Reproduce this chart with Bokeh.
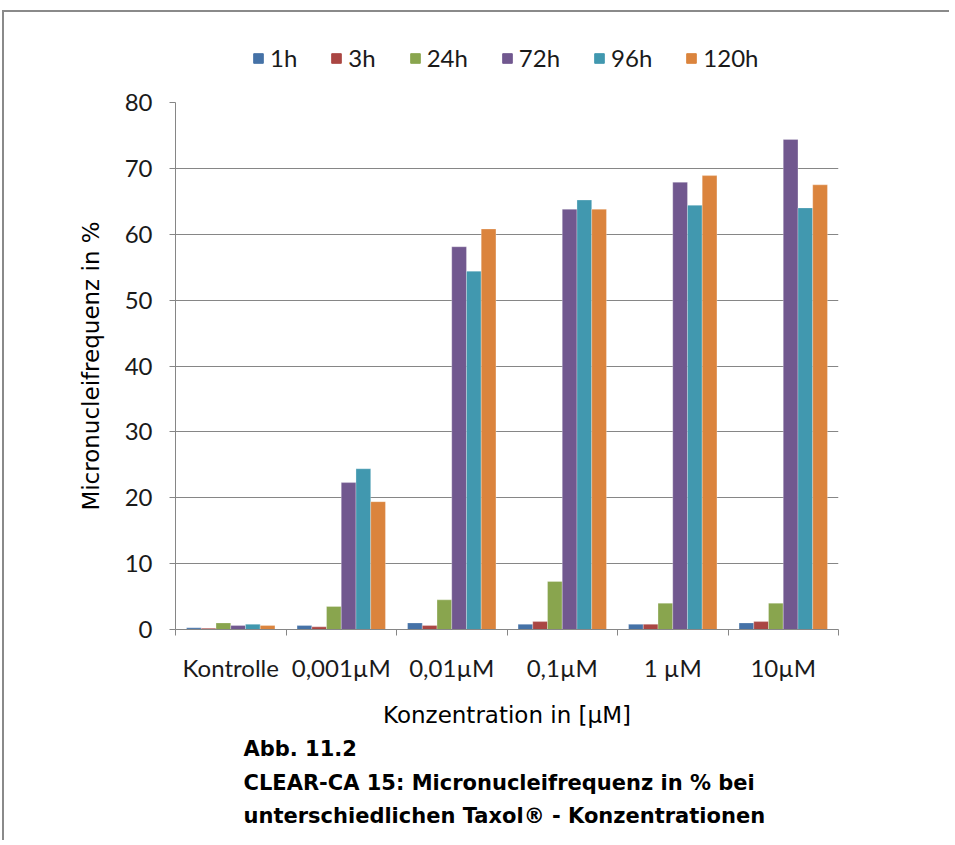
from bokeh.plotting import figure
from bokeh.layouts import column
from bokeh.models import (Range1d, LinearAxis, FixedTicker,
                          Legend, LegendItem, Title, Grid)
from bokeh.transform import dodge
from bokeh.embed import file_html
from bokeh.resources import INLINE

categories = ["Kontrolle", "0,001µM", "0,01µM", "0,1µM", "1 µM", "10µM"]
series = ["1h", "3h", "24h", "72h", "96h", "120h"]
v_1h = [0.25, 0.6, 1.0, 0.8, 0.8, 1.0]
v_3h = [0.2, 0.4, 0.6, 1.2, 0.8, 1.2]
v_24h = [1.0, 3.5, 4.5, 7.3, 4.0, 4.0]
v_72h = [0.6, 22.3, 58.1, 63.8, 67.9, 74.4]
v_96h = [0.8, 24.4, 54.4, 65.2, 64.4, 64.0]
v_120h = [0.6, 19.4, 60.8, 63.8, 68.9, 67.5]
values = [v_1h, v_3h, v_24h, v_72h, v_96h, v_120h]
colors = ["#4572A7", "#AA4643", "#89A54E", "#71588F", "#4198AF", "#DB843D"]
y_ticks = [0, 10, 20, 30, 40, 50, 60, 70, 80]
caption = ["Abb. 11.2",
           "CLEAR-CA 15: Micronucleifrequenz in % bei",
           "unterschiedlichen Taxol® - Konzentrationen"]

GRAY = "#868686"
FONT = "Lato"
TFONT = "DejaVu Sans"
ncat = len(categories)
centers = [i + 0.5 for i in range(ncat)]
bounds = list(range(ncat + 1))

n_series = len(series)
bw = 1.0 / (n_series + 1.5)
data = {"pos": centers}
for s, v in zip(series, values):
    data[s] = v

# ---- legend strip (own figure so the legend is not clipped by the chart frame) ----
lf = figure(width=945, height=64, x_range=Range1d(0, ncat), y_range=Range1d(0, 80),
            x_axis_location=None, y_axis_location=None,
            output_backend="svg", toolbar_location=None,
            min_border=0, min_border_left=0, min_border_right=0,
            min_border_top=0, min_border_bottom=0)
lf.outline_line_color = None
lf.xgrid.visible = False
lf.ygrid.visible = False

legend_items = []
for s, c in zip(series, colors):
    r = lf.scatter(x="pos", y=s, source=data, marker="square",
                   fill_color=c, line_color=c, visible=False)
    legend_items.append(LegendItem(label=s, renderers=[r]))

legend = Legend(items=legend_items, orientation="horizontal", location=(71, 4),
                border_line_color=None, background_fill_alpha=0, padding=0, margin=0,
                spacing=27, glyph_width=24, glyph_height=24, label_standoff=0,
                label_text_font=FONT, label_text_font_size="24px", label_height=24,
                label_text_font_style="normal", label_text_color="#1a1a1a")
lf.add_layout(legend, "center")

# ---- main chart ----
p = figure(width=945, height=764,
           x_range=Range1d(0, ncat), y_range=Range1d(0, 80),
           x_axis_location=None, y_axis_location=None,
           output_backend="svg", toolbar_location=None,
           min_border_left=171, min_border_right=111,
           min_border_top=26, min_border_bottom=211)
p.outline_line_color = None
p.xgrid.visible = False
p.ygrid.visible = False

yticker = FixedTicker(ticks=y_ticks)
p.add_layout(Grid(dimension=1, ticker=yticker, grid_line_color=GRAY, grid_line_width=1))

for j, (s, c) in enumerate(zip(series, colors)):
    off = -0.5 + 0.75 * bw + (j + 0.5) * bw
    p.vbar(x=dodge("pos", off), top=s, width=bw, bottom=0,
           source=data, fill_color=c, line_color="white", line_alpha=0.35, line_width=0.8)

yax = LinearAxis(ticker=yticker, axis_label="Micronucleifrequenz in %",
                 axis_line_color=GRAY, major_tick_line_color=GRAY,
                 major_tick_out=6, major_tick_in=0, minor_tick_out=0, minor_tick_in=0,
                 major_label_standoff=17, axis_label_standoff=18,
                 major_label_text_font=FONT, major_label_text_font_size="24px",
                 major_label_text_color="#1a1a1a",
                 axis_label_text_font=TFONT, axis_label_text_font_size="23px",
                 axis_label_text_font_style="normal", axis_label_text_color="#000000")
p.add_layout(yax, "left")

# category boundary tick marks (no labels)
bax = LinearAxis(ticker=FixedTicker(ticks=bounds),
                 major_label_overrides={b: "" for b in bounds},
                 axis_line_color=GRAY, major_tick_line_color=GRAY,
                 major_tick_out=6, major_tick_in=0, minor_tick_out=0, minor_tick_in=0,
                 major_label_text_font_size="1px", major_label_standoff=0)
p.add_layout(bax, "below")

cax = LinearAxis(ticker=FixedTicker(ticks=centers),
                 major_label_overrides={c: cat for c, cat in zip(centers, categories)},
                 axis_line_color=None, major_tick_line_color=None, minor_tick_line_color=None,
                 major_tick_out=0, major_tick_in=0, minor_tick_out=0, minor_tick_in=0,
                 major_label_standoff=17, axis_label_standoff=17,
                 axis_label="Konzentration in [µM]",
                 major_label_text_font=FONT, major_label_text_font_size="24px",
                 major_label_text_color="#1a1a1a",
                 axis_label_text_font=TFONT, axis_label_text_font_size="23px",
                 axis_label_text_font_style="normal", axis_label_text_color="#000000")
p.add_layout(cax, "below")

caption_standoffs = [9, 7, 6]
for line, so in zip(caption, caption_standoffs):
    p.add_layout(Title(text=line, align="left", offset=68, standoff=so,
                       text_font=TFONT, text_font_style="bold",
                       text_font_size="21px", text_color="#000000"), "below")

layout = column(lf, p, spacing=0)
layout.styles = {"border-top": "2px solid #8a8a8a", "border-left": "2px solid #8a8a8a",
                 "margin-top": "10px", "margin-left": "2px"}

open("out.html", "w").write(file_html(layout, INLINE))
